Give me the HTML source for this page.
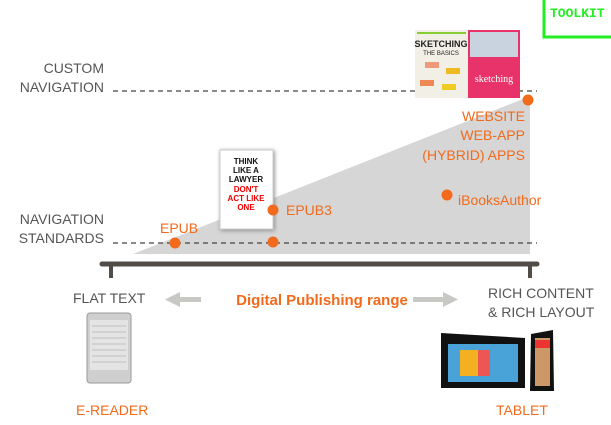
<!DOCTYPE html>
<html><head><style>
html,body{margin:0;padding:0;background:#fff;width:611px;height:425px;overflow:hidden}
text{font-family:"Liberation Sans",sans-serif}
</style></head><body>
<svg width="611" height="425" viewBox="0 0 611 425" xmlns="http://www.w3.org/2000/svg">
<!-- toolkit -->
<path d="M544 0 V37 H611" fill="none" stroke="#22ee22" stroke-width="3"/>
<text x="550" y="17" font-family="Liberation Mono,monospace" font-weight="bold" font-size="13" fill="#22ee22" style="font-family:'Liberation Mono',monospace">TOOLKIT</text>
<!-- triangle -->
<polygon points="133,254 528,97 530,97 530,254" fill="#d6d6d6"/>
<!-- dashed lines -->
<line x1="113" y1="91" x2="537" y2="91" stroke="#444" stroke-width="1.3" stroke-dasharray="5,4"/>
<line x1="113" y1="243" x2="537" y2="243" stroke="#444" stroke-width="1.3" stroke-dasharray="5,4"/>
<!-- left labels -->
<g fill="#555" font-size="14" text-anchor="end">
<text x="104" y="73">CUSTOM</text>
<text x="104" y="92">NAVIGATION</text>
<text x="104" y="224">NAVIGATION</text>
<text x="104" y="243">STANDARDS</text>
</g>
<!-- book lawyer -->
<rect x="220" y="150" width="53" height="79" fill="#fff" stroke="#ccc" stroke-width="1" style="filter:drop-shadow(1px 1px 2px #888)"/>
<g font-weight="bold" font-size="8" text-anchor="middle">
<text x="246" y="164" fill="#111">THINK</text>
<text x="246" y="173" fill="#111">LIKE A</text>
<text x="246" y="182" fill="#111">LAWYER</text>
<text x="246" y="192" fill="#e00">DON'T</text>
<text x="246" y="201" fill="#e00">ACT LIKE</text>
<text x="246" y="210" fill="#e00">ONE</text>
</g>
<!-- sketching books -->
<rect x="415" y="30" width="53" height="68" fill="#f2efe6"/>
<rect x="417" y="32" width="49" height="2" fill="#8c3"/>
<text x="441" y="47" font-size="9" font-weight="bold" text-anchor="middle" fill="#222">SKETCHING</text>
<text x="441" y="55" font-size="6" text-anchor="middle" fill="#222">THE BASICS</text>
<rect x="425" y="62" width="14" height="6" fill="#e97"/><rect x="446" y="68" width="14" height="6" fill="#eb2"/>
<rect x="420" y="80" width="14" height="6" fill="#e85"/><rect x="442" y="84" width="14" height="6" fill="#ec2"/>
<rect x="468" y="30" width="52" height="68" fill="#e8336a"/>
<rect x="470" y="32" width="48" height="25" fill="#c9d3e0"/>
<text x="494" y="82" font-size="10" text-anchor="middle" fill="#fff" style="font-family:'Liberation Serif',serif">sketching</text>
<!-- dots -->
<g fill="#f26a1b">
<circle cx="175" cy="243" r="5.5"/>
<circle cx="273" cy="242" r="5.5"/>
<circle cx="273" cy="210" r="5.5"/>
<circle cx="447" cy="195" r="5.5"/>
<circle cx="528" cy="100" r="5.5"/>
</g>
<g fill="#f26a1b" font-size="14">
<text x="160" y="233">EPUB</text>
<text x="286" y="215">EPUB3</text>
<text x="458" y="205">iBooksAuthor</text>
<text x="525" y="121" text-anchor="end">WEBSITE</text>
<text x="525" y="140" text-anchor="end">WEB-APP</text>
<text x="525" y="160" text-anchor="end">(HYBRID) APPS</text>
</g>
<!-- bar -->
<line x1="102" y1="264" x2="537" y2="264" stroke="#524c46" stroke-width="5" stroke-linecap="round"/>
<line x1="111" y1="264" x2="111" y2="278" stroke="#524c46" stroke-width="4"/>
<line x1="530" y1="264" x2="530" y2="278" stroke="#524c46" stroke-width="4"/>
<!-- bottom -->
<g fill="#555" font-size="14">
<text x="73" y="303">FLAT TEXT</text>
<text x="488" y="298">RICH CONTENT</text>
<text x="488" y="317">&amp; RICH LAYOUT</text>
</g>
<g fill="#c8c8c4">
<rect x="178" y="297" width="23" height="5"/><polygon points="165,299.5 180,292 180,307"/>
<rect x="413" y="297" width="30" height="5"/><polygon points="458,299.5 443,292 443,307"/>
</g>
<text x="322" y="305" font-size="15" font-weight="bold" fill="#f26a1b" text-anchor="middle">Digital Publishing range</text>
<!-- e-reader -->
<rect x="87" y="313" width="44" height="70" rx="3" fill="#cfcfcf" stroke="#999"/>
<rect x="90" y="320" width="38" height="50" fill="#e4e4e4"/>
<g stroke="#999" stroke-width="0.6"><line x1="92" y1="326" x2="126" y2="326"/><line x1="92" y1="332" x2="126" y2="332"/><line x1="92" y1="338" x2="126" y2="338"/><line x1="92" y1="344" x2="126" y2="344"/><line x1="92" y1="350" x2="126" y2="350"/><line x1="92" y1="356" x2="126" y2="356"/><line x1="92" y1="362" x2="126" y2="362"/></g>
<!-- tablets -->
<polygon points="441,333 525,338 525,388 441,388" fill="#111"/>
<rect x="448" y="344" width="70" height="38" fill="#4aa3d8"/>
<rect x="460" y="350" width="18" height="26" fill="#f3b020"/>
<rect x="478" y="350" width="12" height="26" fill="#e55"/>
<polygon points="531,334 553,330 554,391 530,391" fill="#111"/>
<rect x="535" y="338" width="15" height="48" fill="#c96"/>
<rect x="535" y="340" width="15" height="8" fill="#e33"/>
<g fill="#f26a1b" font-size="14">
<text x="76" y="415">E-READER</text>
<text x="496" y="415">TABLET</text>
</g>
</svg>
</body></html>
